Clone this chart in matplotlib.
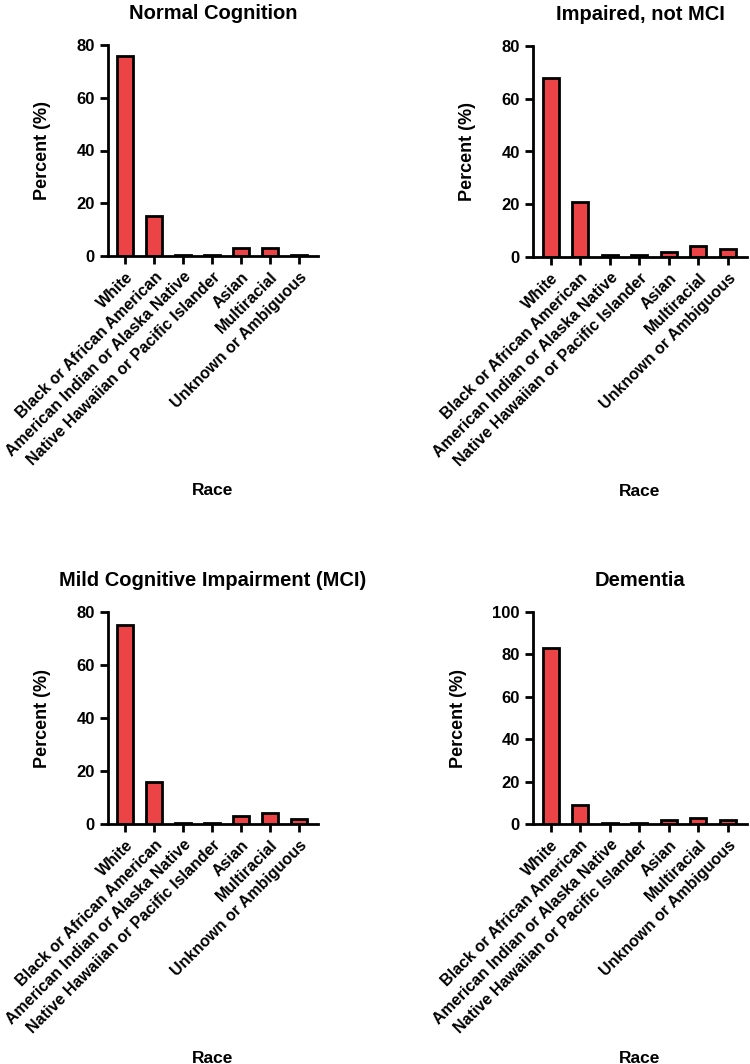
import matplotlib
matplotlib.use("Agg")
import matplotlib.pyplot as plt
import numpy as np

plt.rcParams['font.family'] = ['Liberation Sans', 'DejaVu Sans']
plt.rcParams['font.weight'] = 'bold'

categories = ["White", "Black or African American", "American Indian or Alaska Native",
              "Native Hawaiian or Pacific Islander", "Asian", "Multiracial", "Unknown or Ambiguous"]
normal = [76, 15, 0.4, 0.4, 3, 3, 0.4]
impaired = [68, 21, 0.6, 0.6, 2, 4, 3]
mci = [75, 16, 0.5, 0.5, 3, 4, 2]
dementia = [83, 9, 0.4, 0.4, 2, 3, 2]

panels = [("Normal Cognition", normal, 80, [0, 20, 40, 60, 80]),
          ("Impaired, not MCI", impaired, 80, [0, 20, 40, 60, 80]),
          ("Mild Cognitive Impairment (MCI)", mci, 80, [0, 20, 40, 60, 80]),
          ("Dementia", dementia, 100, [0, 20, 40, 60, 80, 100])]

W, H = 750, 1064
fig = plt.figure(figsize=(W / 100, H / 100), dpi=100)

# axes rects in pixel coordinates: (left, top, right, bottom)
rects = [(108, 45, 318, 256), (533, 46, 747, 257),
         (108, 612, 318, 824), (533, 612, 747, 824)]

bar_color = '#EC4346'
for (title, vals, ymax, yt), (l, t, r, b) in zip(panels, rects):
    ax = fig.add_axes([l / W, 1 - b / H, (r - l) / W, (b - t) / H])
    x = np.arange(len(categories))
    ax.bar(x, vals, width=0.55, color=bar_color, edgecolor='black', linewidth=2.0)
    ax.set_xlim(-0.6, 6.65)
    ax.set_ylim(0, ymax)
    ax.set_yticks(yt)
    ax.set_xticks(x)
    ax.set_xticklabels(categories, rotation=45, ha='right', rotation_mode='anchor',
                       fontsize=11.5, fontweight='bold')
    ax.tick_params(axis='y', labelsize=12, width=2, length=6)
    ax.tick_params(axis='x', width=2, length=6)
    for lab in ax.get_yticklabels():
        lab.set_fontweight('bold')
    for s in ['top', 'right']:
        ax.spines[s].set_visible(False)
    for s in ['left', 'bottom']:
        ax.spines[s].set_linewidth(2)
    ax.set_title(title, fontsize=14.5, fontweight='bold', pad=19)
    ax.set_ylabel("Percent (%)", fontsize=13, fontweight='bold', labelpad=18)
    ax.set_xlabel("Race", fontsize=12.5, fontweight='bold', labelpad=11)

fig.savefig("out.png", dpi=100)
